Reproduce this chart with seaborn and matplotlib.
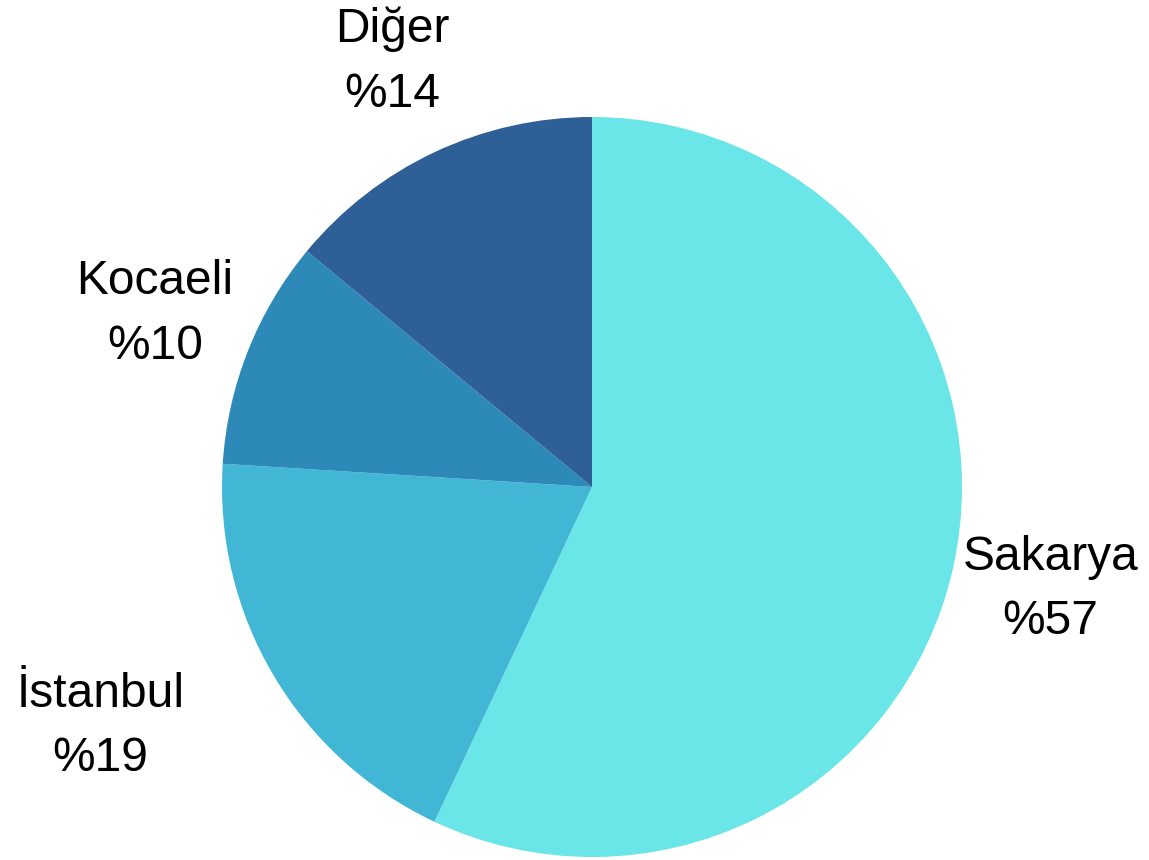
import matplotlib
matplotlib.use("Agg")
import matplotlib.pyplot as plt
import seaborn as sns
import numpy as np

# data
regions = ['Sakarya', 'İstanbul', 'Kocaeli', 'Diğer']
shares = [57, 19, 10, 14]
colors = ['#6AE5E8', '#42B7D5', '#2D8AB8', '#2E5F97']

# label placement: distance from centre (radii) and sideways nudge
label_dist = 1.27
label_nudge = [0.0, -0.235, 0.0, 0.0]

sns.set_style('white')
plt.rcParams['font.family'] = ['Liberation Sans', 'DejaVu Sans']

fig = plt.figure(figsize=(11.49, 8.6), dpi=100)
ax = fig.add_axes([222 / 1149, 3 / 860, 740 / 1149, 740 / 860])

wedges, _ = ax.pie(shares, colors=colors, startangle=90, counterclock=False,
                   radius=1, wedgeprops=dict(linewidth=0))

for w, name, val, nx in zip(wedges, regions, shares, label_nudge):
    ang = np.deg2rad((w.theta1 + w.theta2) / 2)
    ax.text(label_dist * np.cos(ang) + nx, label_dist * np.sin(ang),
            f'{name}\n%{val}', ha='center', va='center', fontsize=34.5,
            linespacing=1.55, color='black', clip_on=False)

ax.set_xlim(-1, 1)
ax.set_ylim(-1, 1)
ax.set_aspect('equal')
ax.axis('off')

fig.savefig('out.png', dpi=100)
